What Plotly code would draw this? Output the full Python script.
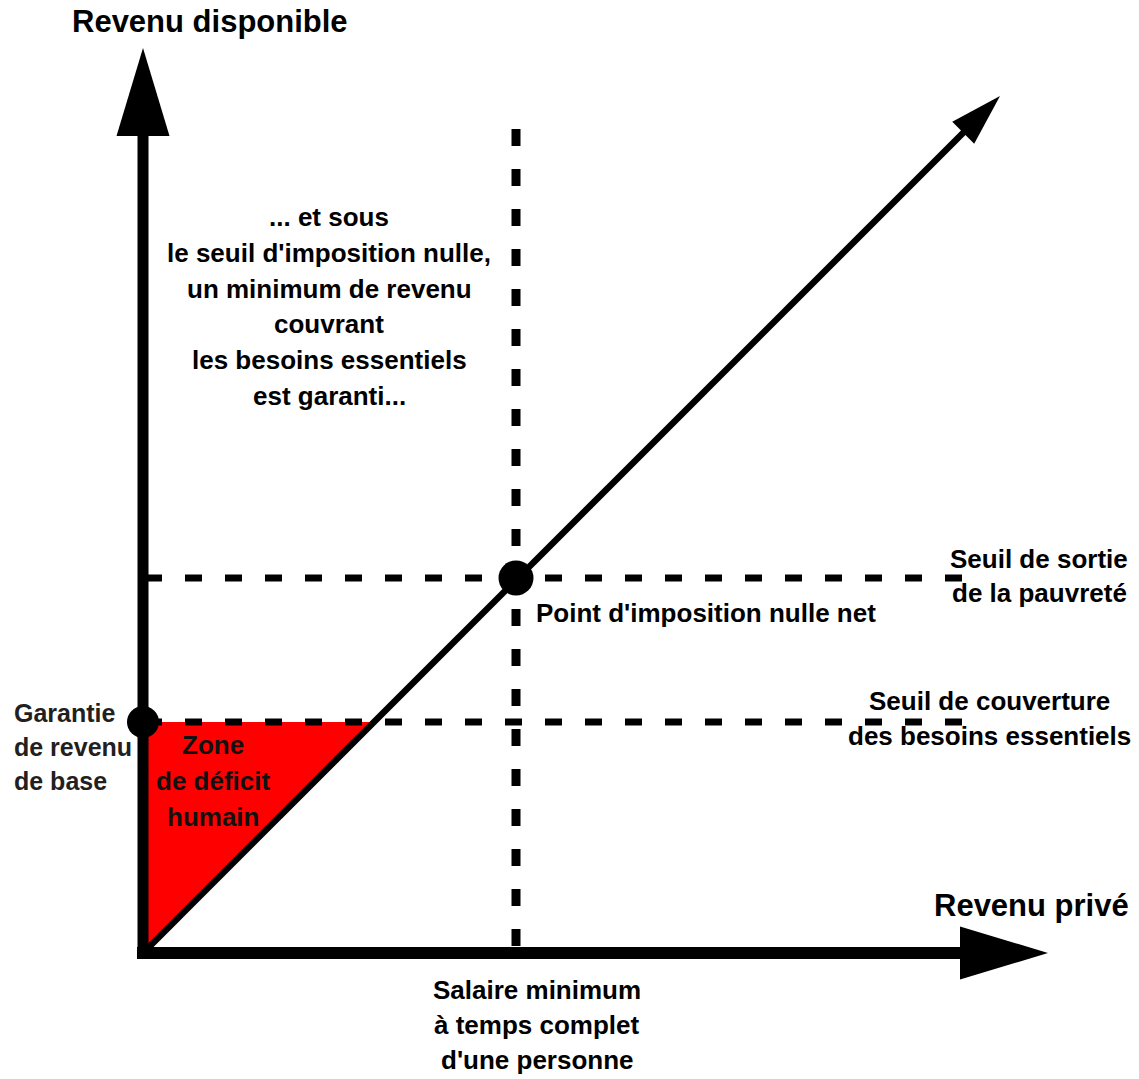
import plotly.graph_objects as go

# valeurs du schéma (unités arbitraires, origine au coin des axes)
axe_x = [0, 905]
axe_y = [0, 905]
diag_x = [0, 857]
diag_y = [0, 857]
salaire_minimum = 373
haut_pointilles = 824
seuil_sortie = 375
seuil_couverture = 231
garantie_base = 231
fin_pointilles = [2, 819]

W, H = 1139, 1079
X0, Y0 = 143, 953          # position du coin des axes dans l'image
FONT = "Liberation Sans, Arial, sans-serif"

fig = go.Figure()


def triangle(tip, d, length, half):
    # tête de flèche pleine, d = direction unitaire
    bx, by = tip[0] - d[0] * length, tip[1] - d[1] * length
    nx, ny = -d[1], d[0]
    xs = [tip[0], bx + nx * half, bx - nx * half, tip[0]]
    ys = [tip[1], by + ny * half, by - ny * half, tip[1]]
    fig.add_trace(go.Scatter(x=xs, y=ys, mode='lines', fill='toself',
                             fillcolor='black', line=dict(width=0, color='black')))
    return bx, by


# zone de déficit humain
fig.add_trace(go.Scatter(x=[0, 0, garantie_base, 0], y=[0, garantie_base, garantie_base, 0],
                         mode='lines', fill='toself', fillcolor='#ff0000',
                         line=dict(width=0, color='#ff0000')))

# pointillés
fig.add_trace(go.Scatter(x=[salaire_minimum, salaire_minimum], y=[haut_pointilles, 0], mode='lines',
                         line=dict(color='black', width=9, dash='17px,23px')))
fig.add_trace(go.Scatter(x=fin_pointilles, y=[seuil_sortie, seuil_sortie], mode='lines',
                         line=dict(color='black', width=7, dash='17px,23px')))
fig.add_trace(go.Scatter(x=fin_pointilles, y=[seuil_couverture, seuil_couverture], mode='lines',
                         line=dict(color='black', width=7, dash='17px,23px')))

# diagonale revenu disponible = revenu privé
r2 = 2 ** -0.5
bx, by = triangle((diag_x[1], diag_y[1]), (r2, r2), 52, 15.5)
fig.add_trace(go.Scatter(x=[diag_x[0], bx + 2], y=[diag_y[0], by + 2], mode='lines',
                         line=dict(color='black', width=6.5)))

# axes
bx, by = triangle((axe_x[1], 0), (1, 0), 88, 26.5)
fig.add_trace(go.Scatter(x=[-6, bx + 2], y=[0, 0], mode='lines', line=dict(color='black', width=12)))
bx, by = triangle((0, axe_y[1]), (0, 1), 88, 26.5)
fig.add_trace(go.Scatter(x=[0, 0], y=[-6, by + 2], mode='lines', line=dict(color='black', width=11)))

# points
fig.add_trace(go.Scatter(x=[salaire_minimum], y=[seuil_sortie], mode='markers',
                         marker=dict(color='black', size=35)))
fig.add_trace(go.Scatter(x=[0], y=[garantie_base], mode='markers',
                         marker=dict(color='black', size=32)))


def label(lines, px, py, step, size=26, anchor='center', color='black'):
    for i, t in enumerate(lines):
        fig.add_annotation(x=px / W, y=1 - (py + i * step) / H, xref='paper', yref='paper',
                           text='<b>' + t + '</b>', showarrow=False, xanchor=anchor, yanchor='middle',
                           font=dict(family=FONT, size=size, color=color))


label(['Revenu disponible'], 70, 22, 0, size=31, anchor='left')
label(['Revenu privé'], 1131, 905, 0, size=31, anchor='right')
label(['... et sous', "le seuil d'imposition nulle,", 'un minimum de revenu', 'couvrant',
       'les besoins essentiels', 'est garanti...'], 329, 217, 35.8)
label(["Point d'imposition nulle net"], 534, 613, 0, anchor='left')
label(['Seuil de sortie', 'de la pauvreté'], 1039, 559, 34)
label(['Seuil de couverture', 'des besoins essentiels'], 989, 701, 35)
label(['Garantie', 'de revenu', 'de base'], 12, 713, 34, size=25, anchor='left', color='#231f20')
label(['Zone', 'de déficit', 'humain'], 213, 745, 36, color='#111111')
label(['Salaire minimum', 'à temps complet', "d'une personne"], 537, 990, 35)

fig.update_layout(width=W, height=H, margin=dict(l=0, r=0, t=0, b=0),
                  paper_bgcolor='white', plot_bgcolor='white', showlegend=False,
                  xaxis=dict(range=[-X0, W - X0], visible=False, fixedrange=True),
                  yaxis=dict(range=[Y0 - H, Y0], visible=False, fixedrange=True))

fig.write_html('out.html', config={'displayModeBar': False},
               post_script="document.body.style.margin='0';")
